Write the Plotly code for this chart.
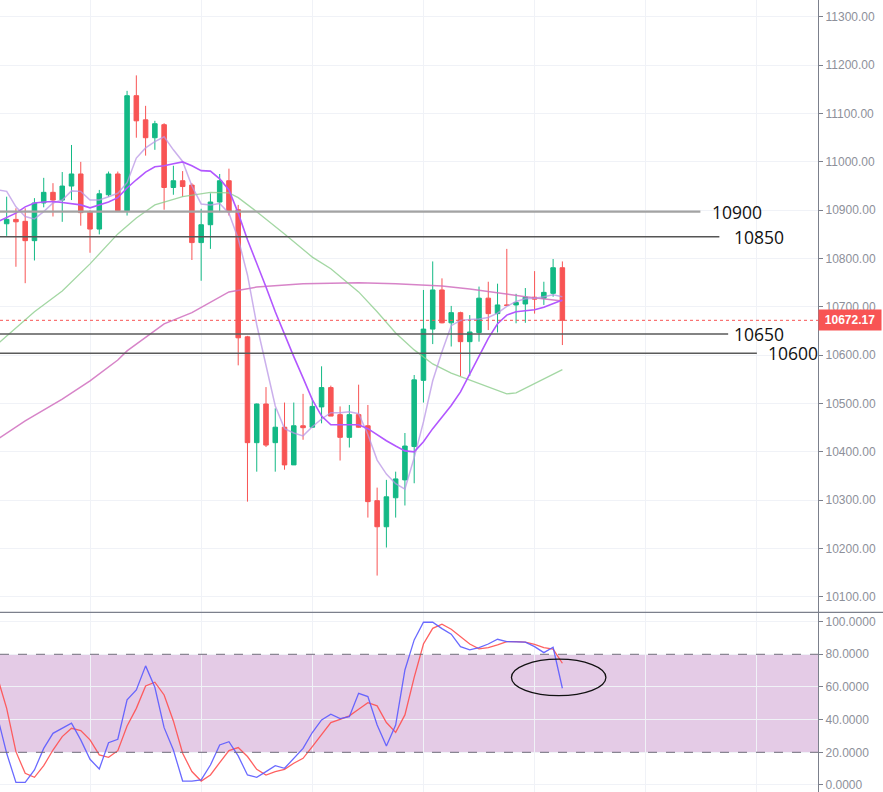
import plotly.graph_objects as go
from plotly.subplots import make_subplots

# candle data (index = bar number)
opens = [10872, 10881, 10877, 10837, 10915, 10937, 10921, 10950, 10975, 10897,
         10861, 10932, 10975, 10899, 11137, 11087, 11050, 11077, 10947, 10961,
         10952, 10833, 10870, 10917, 10961, 10901, 10638, 10419, 10499, 10419,
         10451, 10373, 10454, 10451, 10493, 10533, 10477, 10430, 10477, 10454,
         10299, 10245, 10305, 10342, 10411, 10548, 10654, 10735, 10667, 10688,
         10628, 10647, 10718, 10686, 10704, 10704, 10706, 10720, 10718, 10728,
         10781]
highs = [10928, 10904, 10904, 10925, 10967, 10956, 10979, 11035, 11000, 10900,
         10942, 10980, 10980, 11147, 11179, 11116, 11085, 11080, 10992, 10981,
         10956, 10903, 10935, 10975, 10986, 10911, 10640, 10500, 10534, 10490,
         10502, 10502, 10520, 10510, 10577, 10537, 10494, 10497, 10539, 10497,
         10326, 10342, 10359, 10439, 10559, 10735, 10794, 10759, 10702, 10690,
         10683, 10742, 10752, 10748, 10820, 10727, 10739, 10774, 10752, 10799,
         10794]
lows = [10847, 10783, 10749, 10796, 10906, 10887, 10876, 10921, 10868, 10812,
        10850, 10928, 10897, 10889, 11050, 11013, 11025, 10901, 10932, 10928,
        10797, 10754, 10820, 10896, 10889, 10579, 10297, 10359, 10410, 10359,
        10363, 10373, 10425, 10450, 10459, 10474, 10382, 10409, 10450, 10264,
        10144, 10202, 10264, 10289, 10335, 10502, 10623, 10666, 10618, 10557,
        10557, 10628, 10652, 10647, 10702, 10666, 10667, 10686, 10704, 10721,
        10621]
closes = [10881, 10876, 10837, 10915, 10937, 10921, 10950, 10975, 10895, 10861,
          10934, 10975, 10899, 11137, 11085, 11050, 11079, 10947, 10961, 10949,
          10833, 10870, 10917, 10961, 10897, 10636, 10419, 10499, 10414, 10451,
          10373, 10454, 10450, 10494, 10533, 10474, 10430, 10477, 10451, 10297,
          10245, 10307, 10344, 10412, 10549, 10654, 10735, 10667, 10688, 10628,
          10648, 10718, 10686, 10704, 10703, 10709, 10720, 10716, 10730, 10781,
          10672.17]
bars = list(range(len(closes)))
last_price = 10672.17

# moving averages
fast_idx = list(range(-1, 61))
fast_ma = [10942, 10939, 10907, 10887, 10882, 10897, 10915, 10921, 10940, 10939,
           10921, 10921, 10928, 10935, 10957, 11008, 11029, 11042, 11052, 11025,
           11001, 10950, 10913, 10911, 10914, 10894, 10841, 10766, 10663, 10578,
           10495, 10448, 10439, 10433, 10452, 10468, 10481, 10481, 10483, 10479,
           10436, 10383, 10354, 10334, 10323, 10388, 10462, 10547, 10607, 10661,
           10672, 10674, 10675, 10678, 10687, 10701, 10711, 10717, 10718, 10721,
           10725, 10721]
mid_idx = list(range(-1, 61))
mid_ma = [10876, 10885, 10894, 10907, 10915, 10917, 10918, 10916, 10914, 10911,
          10905, 10911, 10917, 10926, 10946, 10963, 10979, 10990, 10992, 10996,
          11000, 10992, 10982, 10981, 10965, 10942, 10894, 10839, 10791, 10741,
          10690, 10642, 10597, 10553, 10508, 10474, 10456, 10456, 10456, 10456,
          10448, 10435, 10423, 10412, 10402, 10400, 10421, 10448, 10472, 10496,
          10524, 10562, 10600, 10635, 10665, 10683, 10690, 10692, 10694, 10699,
          10707, 10714]
slow_idx = [-1, 3, 6, 9, 12, 14, 16, 19, 22, 24, 25, 27, 30, 33, 35, 38, 40,
            42, 44, 46, 48, 51, 54, 55, 57, 60]
slow_ma = [10623, 10690, 10733, 10789, 10851, 10884, 10911, 10928, 10937, 10936,
           10926, 10897, 10851, 10803, 10779, 10731, 10690, 10646, 10611, 10582,
           10563, 10541, 10520, 10522, 10541, 10570]
long_idx = [-1, 2, 6, 9, 12, 13, 17, 20, 24, 27, 32, 38, 42, 47, 50, 53, 56, 60]
long_ma = [10426, 10464, 10509, 10547, 10590, 10609, 10665, 10688, 10731, 10741,
           10748, 10750, 10748, 10743, 10737, 10729, 10721, 10712]

# stochastic %K / %D
stoch_idx = list(range(-1, 61))
stoch_k = [42, 19.4, 1.6, 1.6, 9.2, 22.4, 31.6, 34.7, 37.8, 27.6,
           15.7, 9.8, 25.9, 28.0, 52.1, 58.2, 72.9, 59.8, 35.1, 21.4,
           2.4, 2.4, 3.1, 12.2, 24.5, 26.5, 17.8, 6.1, 4.7, 8.2,
           11.8, 10.2, 16.3, 22.4, 32.1, 39.8, 43.3, 40.6, 41.8, 56.1,
           54.1, 36.7, 23.9, 36.7, 70.4, 88.8, 99.6, 99.6, 95.7, 92.3,
           84.7, 82.7, 84.1, 86.3, 89.2, 87.8, 87.6, 87.4, 84.7, 81.0,
           84.3, 59.2]
stoch_d = [66, 46.9, 20.4, 7.1, 4.7, 11.8, 21.4, 29.6, 34.7, 33.3,
           27.6, 18.4, 16.9, 21.0, 36.1, 46.9, 60.6, 62.9, 55.1, 39.2,
           19.4, 8.2, 2.4, 6.1, 13.7, 21.0, 22.9, 17.4, 9.6, 6.1,
           8.2, 9.6, 13.3, 16.3, 23.5, 31.2, 38.2, 40.2, 42.3, 46.3,
           50.4, 48.4, 38.2, 32.2, 42.9, 65.9, 86.3, 95.9, 98.4, 95.3,
           90.8, 86.3, 83.3, 84.1, 85.7, 87.8, 87.8, 87.4, 86.1, 84.1,
           83.1, 74.5]

# support / resistance levels drawn on the chart
level_labels = ["10900", "10850", "10650", "10600"]
level_prices = [10897, 10845, 10644, 10604]

UP = "#13b985"
DOWN = "#f85454"
GRID = "#f0f2f7"
AXIS = "#7c808c"

fig = make_subplots(rows=2, cols=1, shared_xaxes=True, vertical_spacing=0)

fig.add_trace(
    go.Candlestick(
        x=bars, open=opens, high=highs, low=lows, close=closes,
        increasing=dict(line=dict(color=UP, width=1), fillcolor=UP),
        decreasing=dict(line=dict(color=DOWN, width=1), fillcolor=DOWN),
        whiskerwidth=0,
        showlegend=False,
    ),
    row=1, col=1,
)

ma_lines = [
    (long_idx, long_ma, "rgba(208,110,190,0.85)", 1.5),
    (slow_idx, slow_ma, "rgba(140,205,140,0.8)", 1.3),
    (fast_idx, fast_ma, "rgba(185,150,230,0.75)", 1.5),
    (mid_idx, mid_ma, "#b257ff", 1.6),
]
for xs, ys, col, w in ma_lines:
    fig.add_trace(
        go.Scatter(x=xs, y=ys, mode="lines", line=dict(color=col, width=w),
                   showlegend=False, hoverinfo="skip"),
        row=1, col=1,
    )

fig.add_trace(
    go.Scatter(x=stoch_idx, y=stoch_d, mode="lines",
               line=dict(color="rgba(255,80,80,0.9)", width=1.3), showlegend=False),
    row=2, col=1,
)
fig.add_trace(
    go.Scatter(x=stoch_idx, y=stoch_k, mode="lines",
               line=dict(color="rgba(90,90,255,0.9)", width=1.3), showlegend=False),
    row=2, col=1,
)

# level lines + labels
level_ends = [74.9, 76.95, 77.9, 81.0]
label_starts = [75.9, 78.3, 78.3, 82.0]
level_styles = [("#a3a3a3", 2.2), ("#555555", 1.5), ("#5a5a5a", 1.5), ("#5a5a5a", 1.5)]
for lab, price, x_end, x_lab, (col, w) in zip(level_labels, level_prices, level_ends,
                                              label_starts, level_styles):
    fig.add_shape(type="line", xref="x", yref="y", x0=-1, x1=x_end, y0=price, y1=price,
                  line=dict(color=col, width=w))
    fig.add_annotation(x=x_lab, y=price, xref="x", yref="y", text=lab, showarrow=False,
                       xanchor="left", yanchor="middle",
                       font=dict(family="Open Sans", size=17.5, color="#111111"))

# last price line and tag
fig.add_shape(type="line", xref="paper", yref="y", x0=0, x1=1, y0=last_price, y1=last_price,
              line=dict(color=DOWN, width=1, dash="dot"))
fig.add_annotation(x=1, y=last_price, xref="paper", yref="y", text="<b>%.2f</b>" % last_price,
                   showarrow=False, xanchor="left", yanchor="middle", bgcolor=DOWN,
                   font=dict(family="Liberation Sans", size=12, color="white"),
                   borderpad=3, width=56)

# stochastic band
fig.add_shape(type="rect", xref="x2 domain", yref="y2", x0=0, x1=1, y0=20, y1=80,
              fillcolor="#e4cbe6", line=dict(width=0), layer="below")
for lvl in (20, 80):
    fig.add_shape(type="line", xref="x2 domain", yref="y2", x0=0, x1=1, y0=lvl, y1=lvl,
                  line=dict(color="#6f6a78", width=1, dash="dash"))
fig.add_shape(type="circle", xref="x2", yref="y2", x0=54.5, x1=64.7, y0=54.7, y1=77.0,
              line=dict(color="#111111", width=1.3))

# pane separator
fig.add_shape(type="line", xref="paper", yref="paper", x0=0, x1=1.08, y0=0.2269, y1=0.2269,
              line=dict(color=AXIS, width=1.2))

axis_font = dict(family="Liberation Sans", size=12, color="#8d909a")
fig.update_xaxes(range=[-0.72, 87.6], tickvals=list(range(9, 90, 12)), showticklabels=False,
                 showgrid=True, gridcolor=GRID, zeroline=False, ticks="")
fig.update_layout(
    width=883, height=792,
    margin=dict(l=0, r=65, t=0, b=0),
    plot_bgcolor="white", paper_bgcolor="white",
    xaxis_rangeslider_visible=False,
    yaxis=dict(domain=[0.2269, 1], range=[10068, 11335], side="right", dtick=100,
               tickformat=".2f", gridcolor=GRID, zeroline=False, showline=True,
               linecolor=AXIS, linewidth=1.2, ticks="outside", ticklen=4, tickcolor=AXIS,
               tickfont=axis_font),
    yaxis2=dict(domain=[0, 0.2269], range=[-4.3, 105.7], side="right",
                tickvals=[0, 20, 40, 60, 80, 100], tickformat=".4f", gridcolor=GRID,
                zeroline=False, showline=True, linecolor=AXIS, linewidth=1.2,
                ticks="outside", ticklen=4, tickcolor=AXIS, tickfont=axis_font,
                ticklabeloverflow="allow"),
)

fig.write_html("out.html", config={"displayModeBar": False},
               post_script="document.body.style.margin='0';")
